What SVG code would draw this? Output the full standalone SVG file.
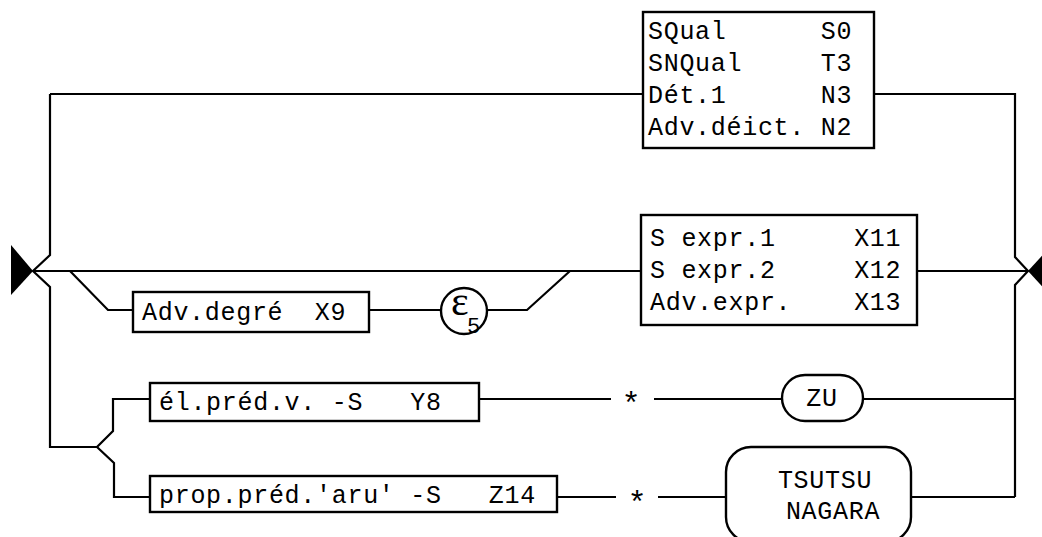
<svg xmlns="http://www.w3.org/2000/svg" width="1042" height="537" viewBox="0 0 1042 537">
<style>
.ln{stroke:#000;stroke-width:2.2;fill:none;stroke-linejoin:miter}
.box{fill:#fff;stroke:#000;stroke-width:2.4}
.t{font-family:"Liberation Mono",monospace;font-size:25px;letter-spacing:0.7px;fill:#000;white-space:pre}
.c{text-anchor:middle}
.star{font-family:"Liberation Mono",monospace;font-size:32px;text-anchor:middle;fill:#000}
.arr{fill:#000;stroke:none}
</style>
<rect width="1042" height="537" fill="#fff"/>
<g id="connectors">
  <polygon class="arr" points="11,245 33,271 11,295"/>
  <polyline class="ln" points="50,94 50,255 33,271 50,287 50,447 97,447"/>
  <line class="ln" x1="50" y1="94" x2="643" y2="94"/>
  <polyline class="ln" points="874,94 1015,94 1015,257 1028,271 1015,285 1015,497"/>
  <line class="ln" x1="33" y1="271" x2="641" y2="271"/>
  <line class="ln" x1="917" y1="271" x2="1028" y2="271"/>
  <polygon class="arr" points="1028,271 1050,247 1050,295"/>
  <polyline class="ln" points="70,271 108,310 133,310"/>
  <line class="ln" x1="369" y1="310" x2="441" y2="310"/>
  <polyline class="ln" points="487,310 527,310 570,271"/>
  <polyline class="ln" points="150,399 113,399 113,431 97,447 114,463 114,497 150,497"/>
  <line class="ln" x1="479" y1="399" x2="611" y2="399"/>
  <line class="ln" x1="654" y1="399" x2="782" y2="399"/>
  <line class="ln" x1="863" y1="399" x2="1015" y2="399"/>
  <text class="star" x="631" y="414">*</text>
  <line class="ln" x1="557" y1="497" x2="616" y2="497"/>
  <line class="ln" x1="658" y1="497" x2="726" y2="497"/>
  <line class="ln" x1="911" y1="497" x2="1015" y2="497"/>
  <text class="star" x="637" y="513">*</text>
</g>
<g id="box-top">
  <rect class="box" x="643" y="12" width="231" height="136"/>
  <text class="t" x="648" y="39" xml:space="preserve">SQual      S0</text>
  <text class="t" x="648" y="71" xml:space="preserve">SNQual     T3</text>
  <text class="t" x="648" y="103" xml:space="preserve">Dét.1      N3</text>
  <text class="t" x="648" y="135" xml:space="preserve">Adv.déict. N2</text>
</g>
<g id="box-expr">
  <rect class="box" x="641" y="215" width="276" height="110"/>
  <text class="t" x="650" y="246" xml:space="preserve">S expr.1     X11</text>
  <text class="t" x="650" y="278" xml:space="preserve">S expr.2     X12</text>
  <text class="t" x="650" y="310" xml:space="preserve">Adv.expr.    X13</text>
</g>
<g id="box-degre">
  <rect class="box" x="133" y="292" width="236" height="40"/>
  <text class="t" x="142" y="320" xml:space="preserve">Adv.degré  X9</text>
</g>
<g id="eps">
  <circle class="box" cx="464" cy="311" r="23"/>
  <text x="451" y="315" style="font-family:'Liberation Serif',serif;font-size:42px">ε</text>
  <text x="467" y="333" style="font-family:'Liberation Mono',monospace;font-size:22px">5</text>
</g>
<g id="box-elpred">
  <rect class="box" x="150" y="383" width="329" height="38"/>
  <text class="t" x="159" y="410" xml:space="preserve">él.préd.v. -S   Y8</text>
</g>
<g id="box-proppred">
  <rect class="box" x="150" y="476" width="407" height="36"/>
  <text class="t" x="159" y="503" xml:space="preserve">prop.préd.'aru' -S   Z14</text>
</g>
<g id="zu">
  <rect class="box" x="782" y="375" width="81" height="46" rx="23" ry="23"/>
  <text class="t c" x="822" y="406">ZU</text>
</g>
<g id="tsutsu">
  <rect class="box" x="726" y="447" width="185" height="95" rx="25" ry="25"/>
  <text class="t c" x="825" y="488">TSUTSU</text>
  <text class="t c" x="833" y="519">NAGARA</text>
</g>
</svg>
